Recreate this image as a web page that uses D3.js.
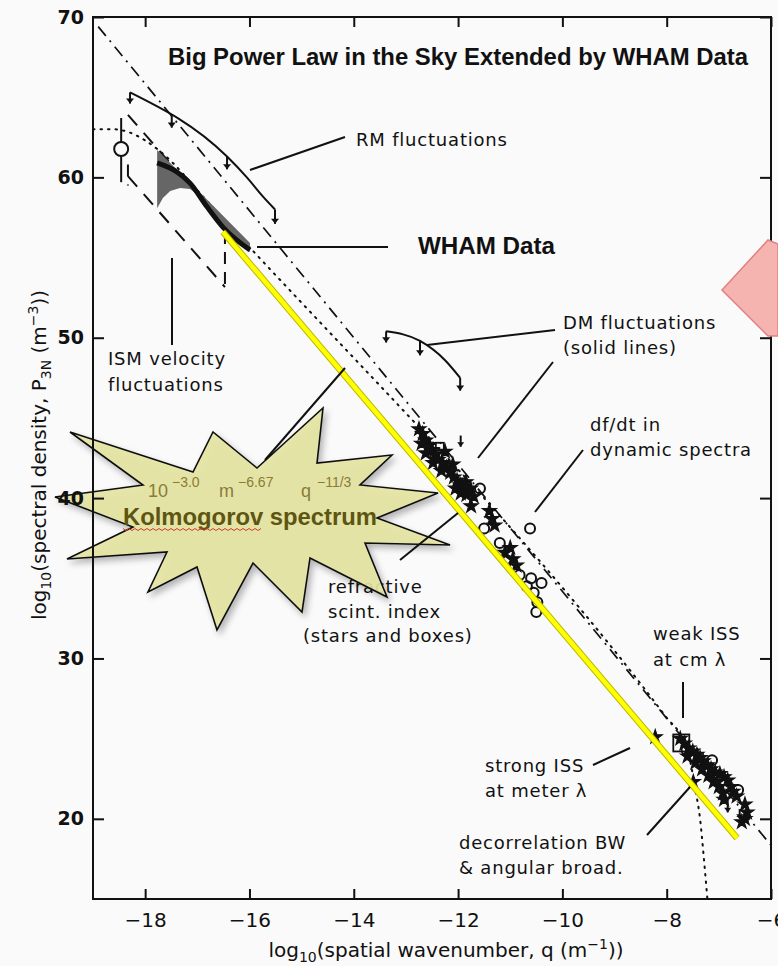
<!DOCTYPE html>
<html>
<head>
<meta charset="utf-8">
<script src="https://cdn.jsdelivr.net/npm/d3@7"></script>
<style>
body { margin: 0; background: #fafafa; }
svg text { font-family: "DejaVu Sans", Arial, sans-serif; fill: #111; }
</style>
</head>
<body>
<div id="chart"></div>
<script>
// tick values (log10 units)
var xTicks = [-18, -16, -14, -12, -10, -8, -6];
var yTicks = [20, 30, 40, 50, 60, 70];

// lines: [log q, log P]
var kolmogorovDotted = [[-19, 63], [-18.6, 63], [-18.3, 62.8], [-18, 62.3], [-17.5, 61.0], [-17, 59.2],
    [-8, 26.3], [-7.7, 25.0], [-7.55, 23.6], [-7.45, 21.8], [-7.36, 20], [-7.3, 18], [-7.22, 15]];
var steepDashDot = [[-18.9, 69.4], [-6, 18.35]];
var whamFit = [[-16.51, 56.6], [-6.65, 18.8]];
var ismUpper = [[-18.33, 63.9], [-16.47, 56.96]];
var ismLower = [[-18.33, 60.08], [-16.47, 53.16]];
var ismSides = [[-18.33, 60.8, 59.5], [-16.47, 56.6, 53.0]];

// WHAM spectrum and its uncertainty band
var whamCurve = [[-17.77, 60.9], [-17.39, 60.33], [-17.14, 59.64], [-16.81, 58.15], [-16.51, 56.9], [-15.99, 55.47]];
var whamBandTop = [[-17.77, 61.7], [-16.9, 58.9], [-15.99, 55.9]];
var whamBandBottom = [[-17.77, 58.08], [-17.66, 58.71], [-17.52, 59.15], [-17.33, 59.33], [-17.14, 59.27],
    [-16.95, 58.83], [-16.81, 58.15], [-16.51, 56.84], [-15.99, 55.34]];

// RM and DM upper limits: curve, then arrows [x, from, tip]
var rmCurve = [[-18.29, 65.3], [-16.43, 61.3], [-16.05, 60.0], [-15.74, 58.8], [-15.51, 58.0]];
var rmArrows = [[-18.29, 65.3, 64.6], [-17.49, 63.9, 63.1], [-16.43, 61.3, 60.5], [-15.51, 58.0, 57.1]];
var dmCurve = [[-13.38, 50.4], [-12.73, 49.8], [-12.25, 48.6], [-11.96, 47.5]];
var dmArrows = [[-13.38, 50.4, 49.7], [-12.73, 49.8, 48.9], [-11.96, 47.5, 46.7]];

// velocity point with error bar [x, y, low, high]
var velocityPoint = [[-18.46, 61.77, 59.7, 63.7]];

// scintillation measurements
var starPoints = [[-12.75, 44.3], [-12.68, 44.0], [-12.62, 43.6], [-12.55, 43.3], [-12.5, 43.0], [-12.44, 42.7],
    [-12.38, 42.4], [-12.3, 42.2], [-12.22, 41.9], [-12.15, 41.6], [-12.08, 41.3], [-12.02, 41.1], [-11.96, 40.8],
    [-11.9, 40.5], [-11.84, 40.2], [-11.95, 40.3], [-12.05, 40.6], [-12.32, 41.7], [-12.48, 42.2], [-12.62, 42.8],
    [-12.7, 43.4], [-11.76, 40.6], [-11.7, 40.1], [-11.75, 39.5], [-11.4, 39.2], [-11.35, 38.7], [-11.3, 38.3],
    [-11.1, 36.6], [-11.0, 36.9], [-10.95, 36.2], [-10.88, 35.8], [-12.25, 42.9], [-12.1, 42.1], [-11.85, 41.0],
    [-8.22, 25.1], [-7.74, 25.0], [-7.66, 24.7], [-7.58, 24.4], [-7.5, 24.2], [-7.42, 24.0], [-7.36, 23.8],
    [-7.3, 23.6], [-7.22, 23.35], [-7.15, 23.1], [-7.07, 22.9], [-6.98, 22.8], [-6.9, 22.6], [-6.83, 22.4],
    [-6.77, 22.0], [-6.73, 21.7], [-6.66, 21.4], [-6.5, 20.9], [-6.46, 20.4], [-6.5, 20.0], [-6.56, 19.8],
    [-7.6, 23.9], [-7.45, 23.5], [-7.32, 23.1], [-7.2, 22.7], [-7.1, 22.3], [-7.0, 22.0], [-6.92, 21.6],
    [-7.49, 22.3], [-6.9, 21.2]];
var boxPoints = [[-12.35, 43.2], [-12.15, 42.0], [-12.45, 42.6]];
var bigBox = [[-7.72, 24.7]];
var circlePoints = [[-11.58, 40.6], [-11.5, 38.1], [-11.2, 37.2], [-10.62, 38.1], [-11.05, 36.1], [-10.82, 35.2],
    [-10.6, 35.0], [-10.4, 34.7], [-10.55, 34.1], [-10.48, 33.5], [-10.68, 34.5], [-10.5, 32.9],
    [-7.13, 23.65], [-6.63, 21.8], [-7.62, 24.3]];
var limitPoints = [[-11.95, 43.9, 43.2], [-6.83, 21.2, 20.4], [-6.6, 20.6, 20.0]];

// chart area
var svgWidth = 778;
var svgHeight = 966;
var margin = {top: 17, right: 7, bottom: 67, left: 93};
var width = svgWidth - margin.left - margin.right;
var height = svgHeight - margin.top - margin.bottom;

var svg = d3.select("#chart").append("svg").attr("width", svgWidth).attr("height", svgHeight);
var defs = svg.append("defs");
defs.append("clipPath").attr("id", "plotClip").append("rect").attr("width", width).attr("height", height);
var shadow = defs.append("filter").attr("id", "shadow").attr("x", "-20%").attr("y", "-20%").attr("width", "140%").attr("height", "140%");
shadow.append("feDropShadow").attr("dx", 3).attr("dy", 4).attr("stdDeviation", 3).attr("flood-color", "#000").attr("flood-opacity", 0.3);

var chartGroup = svg.append("g").attr("transform", `translate(${margin.left}, ${margin.top})`);

var xScale = d3.scaleLinear().domain([-19, -6]).range([0, width]);
var yScale = d3.scaleLinear().domain([15, 70]).range([height, 0]);

var plot = chartGroup.append("g").attr("clip-path", "url(#plotClip)");
var line = d3.line().x(d => xScale(d[0])).y(d => yScale(d[1]));
var smooth = d3.line().x(d => xScale(d[0])).y(d => yScale(d[1])).curve(d3.curveMonotoneX);

// model spectra
plot.append("path").attr("d", smooth(kolmogorovDotted)).attr("fill", "none").attr("stroke", "#111")
    .attr("stroke-width", 2).attr("stroke-dasharray", "1.5,6").attr("stroke-linecap", "round");
plot.append("path").attr("d", line(steepDashDot)).attr("fill", "none").attr("stroke", "#111")
    .attr("stroke-width", 1.7).attr("stroke-dasharray", "12,6,2,6");

// ISM velocity box
[ismUpper, ismLower].forEach(function(seg) {
    plot.append("path").attr("d", line(seg)).attr("fill", "none").attr("stroke", "#111")
        .attr("stroke-width", 2).attr("stroke-dasharray", "14,10");
});
plot.selectAll(".ismSide").data(ismSides).enter().append("line")
    .attr("x1", d => xScale(d[0])).attr("x2", d => xScale(d[0]))
    .attr("y1", d => yScale(d[1])).attr("y2", d => yScale(d[2]))
    .attr("stroke", "#111").attr("stroke-width", 2).attr("stroke-dasharray", "12,8");

// WHAM band and spectrum
var band = whamBandTop.concat(whamBandBottom.slice().reverse());
plot.append("path").attr("d", line(band) + "Z").attr("fill", "#666").attr("stroke", "none");
plot.append("path").attr("d", smooth(whamCurve)).attr("fill", "none").attr("stroke", "#111").attr("stroke-width", 5);

// velocity point
plot.selectAll(".vbar").data(velocityPoint).enter().append("line")
    .attr("x1", d => xScale(d[0])).attr("x2", d => xScale(d[0]))
    .attr("y1", d => yScale(d[2])).attr("y2", d => yScale(d[3])).attr("stroke", "#111").attr("stroke-width", 2);
plot.selectAll(".vpt").data(velocityPoint).enter().append("circle")
    .attr("cx", d => xScale(d[0])).attr("cy", d => yScale(d[1])).attr("r", 7)
    .attr("fill", "#fafafa").attr("stroke", "#111").attr("stroke-width", 2);

// upper-limit curves with arrows
function drawArrows(data, head) {
    plot.selectAll(null).data(data).enter().append("line")
        .attr("x1", d => xScale(d[0])).attr("x2", d => xScale(d[0]))
        .attr("y1", d => yScale(d[1])).attr("y2", d => yScale(d[2]))
        .attr("stroke", "#111").attr("stroke-width", 2);
    plot.selectAll(null).data(data).enter().append("path")
        .attr("d", d => `M${xScale(d[0]) - head},${yScale(d[2]) - head * 1.3}L${xScale(d[0]) + head},${yScale(d[2]) - head * 1.3}L${xScale(d[0])},${yScale(d[2])}Z`)
        .attr("fill", "#111");
}
plot.append("path").attr("d", smooth(rmCurve)).attr("fill", "none").attr("stroke", "#111").attr("stroke-width", 2);
drawArrows(rmArrows, 4);
plot.append("path").attr("d", smooth(dmCurve)).attr("fill", "none").attr("stroke", "#111").attr("stroke-width", 2);
drawArrows(dmArrows, 4);

// measurements
plot.selectAll(".star").data(starPoints).enter().append("path")
    .attr("transform", d => `translate(${xScale(d[0])}, ${yScale(d[1])})`)
    .attr("d", d3.symbol().type(d3.symbolStar).size(60)).attr("fill", "#111")
    .attr("stroke", "#111").attr("stroke-width", 1.2);
plot.selectAll(".box").data(boxPoints).enter().append("rect")
    .attr("x", d => xScale(d[0]) - 4).attr("y", d => yScale(d[1]) - 4).attr("width", 8).attr("height", 8)
    .attr("fill", "none").attr("stroke", "#111").attr("stroke-width", 1.8);
plot.selectAll(".bigbox").data(bigBox).enter().append("rect")
    .attr("x", d => xScale(d[0]) - 8).attr("y", d => yScale(d[1]) - 9).attr("width", 16).attr("height", 17)
    .attr("fill", "none").attr("stroke", "#111").attr("stroke-width", 1.8);
plot.selectAll(".ring").data(circlePoints).enter().append("circle")
    .attr("cx", d => xScale(d[0])).attr("cy", d => yScale(d[1])).attr("r", 5)
    .attr("fill", "none").attr("stroke", "#111").attr("stroke-width", 2);
drawArrows(limitPoints, 3.5);

// WHAM extension of the Kolmogorov line
plot.append("path").attr("d", line(whamFit)).attr("fill", "none").attr("stroke", "#b8b800").attr("stroke-width", 6.5);
plot.append("path").attr("d", line(whamFit)).attr("fill", "none").attr("stroke", "#ffff00").attr("stroke-width", 4.5);

// annotation labels
var labels = [["RM fluctuations", 356, 146], ["ISM velocity", 108, 365], ["fluctuations", 108, 391],
    ["DM fluctuations", 563, 329], ["(solid lines)", 563, 354], ["df/dt in", 590, 431], ["dynamic spectra", 590, 456],
    ["refractive", 328, 593], ["scint. index", 328, 618], ["(stars and boxes)", 303, 642],
    ["weak ISS", 653, 640], ["at cm λ", 653, 666], ["strong ISS", 485, 772], ["at meter λ", 485, 797],
    ["decorrelation BW", 459, 849], ["& angular broad.", 459, 874]];
svg.selectAll(".lab").data(labels).enter().append("text")
    .attr("x", d => d[1]).attr("y", d => d[2]).attr("font-size", 18).attr("letter-spacing", 0.8).text(d => d[0]);

// starburst callout, slightly see-through
var burst = [[70, 432], [193, 472], [213, 432], [257, 468], [323, 408], [317, 463], [392, 455], [360, 485],
    [438, 493], [377, 518], [450, 545], [365, 543], [387, 597], [310, 558], [302, 612], [253, 563],
    [217, 630], [197, 567], [148, 592], [167, 552], [67, 559], [133, 527], [55, 497], [143, 485]];
svg.append("polygon").attr("points", burst.map(p => p.join(",")).join(" "))
    .attr("fill", "#e5e4a2").attr("fill-opacity", 0.9).attr("stroke", "#111").attr("stroke-width", 1.6)
    .attr("filter", "url(#shadow)");

// axes with inward ticks on all four sides, kept above the starburst
var axisGroup = svg.append("g").attr("transform", `translate(${margin.left}, ${margin.top})`);
var bottomAxis = d3.axisBottom(xScale).tickValues(xTicks).tickSizeInner(-10).tickSizeOuter(0).tickPadding(14);
var topAxis = d3.axisTop(xScale).tickValues(xTicks).tickSizeInner(-10).tickSizeOuter(0).tickFormat("");
var leftAxis = d3.axisLeft(yScale).tickValues(yTicks).tickSizeInner(-11).tickSizeOuter(0).tickPadding(9);
var rightAxis = d3.axisRight(yScale).tickValues(yTicks).tickSizeInner(-11).tickSizeOuter(0).tickFormat("");

var gx = axisGroup.append("g").attr("transform", `translate(0, ${height})`).call(bottomAxis);
axisGroup.append("g").call(topAxis);
var gy = axisGroup.append("g").call(leftAxis);
axisGroup.append("g").attr("transform", `translate(${width}, 0)`).call(rightAxis);
axisGroup.selectAll(".domain").remove();
axisGroup.selectAll(".tick line").attr("stroke", "#111").attr("stroke-width", 2);
gx.selectAll("text").attr("font-size", 20).attr("fill", "#111").style("font-family", "DejaVu Sans");
gy.selectAll("text").attr("font-size", 19).attr("fill", "#111").style("font-family", "DejaVu Sans").attr("font-weight", "bold");
axisGroup.append("rect").attr("width", width).attr("height", height).attr("fill", "none").attr("stroke", "#111").attr("stroke-width", 2);

// axis titles
var xt = svg.append("text").attr("x", 446).attr("y", 957).attr("text-anchor", "middle").attr("font-size", 20);
xt.append("tspan").text("log");
xt.append("tspan").attr("font-size", 14).attr("dy", 5).text("10");
xt.append("tspan").attr("dy", -5).text("(spatial wavenumber, q (m");
xt.append("tspan").attr("font-size", 14).attr("dy", -8).text("−1");
xt.append("tspan").attr("dy", 8).text("))");

var yt = svg.append("text").attr("transform", "translate(46, 455) rotate(-90)").attr("text-anchor", "middle").attr("font-size", 20);
yt.append("tspan").text("log");
yt.append("tspan").attr("font-size", 14).attr("dy", 5).text("10");
yt.append("tspan").attr("dy", -5).text("(spectral density, P");
yt.append("tspan").attr("font-size", 14).attr("dy", 5).text("3N");
yt.append("tspan").attr("dy", -5).text(" (m");
yt.append("tspan").attr("font-size", 14).attr("dy", -8).text("−3");
yt.append("tspan").attr("dy", 8).text("))");

// annotation leader lines
var leaders = [[250, 170, 345, 137], [257, 247, 388, 247], [172, 258, 172, 345], [427, 345, 555, 330],
    [478, 458, 553, 362], [535, 512, 583, 450], [400, 560, 458, 513], [265, 460, 345, 368],
    [683, 682, 683, 718], [593, 765, 630, 748], [647, 835, 690, 787]];
svg.selectAll(".leader").data(leaders).enter().append("line")
    .attr("x1", d => d[0]).attr("y1", d => d[1]).attr("x2", d => d[2]).attr("y2", d => d[3])
    .attr("stroke", "#111").attr("stroke-width", 2);

// overlay title and WHAM label
svg.append("text").attr("x", 168).attr("y", 65).attr("font-size", 24).attr("font-weight", "bold")
    .attr("textLength", 580).attr("lengthAdjust", "spacingAndGlyphs").style("font-family", "Liberation Sans, Arial")
    .text("Big Power Law in the Sky Extended by WHAM Data");
svg.append("text").attr("x", 418).attr("y", 254).attr("font-size", 24).attr("font-weight", "bold")
    .attr("textLength", 137).attr("lengthAdjust", "spacingAndGlyphs").style("font-family", "Liberation Sans, Arial")
    .text("WHAM Data");

// pink callout arrow at right edge
svg.append("path").attr("d", "M722,290L768,240L778,244L778,336L768,336Z")
    .attr("fill", "#f6b4b0").attr("stroke", "#e08080").attr("stroke-width", 1.5);

// starburst text
var eq = svg.append("g");
[["10", 148, 497, 18], ["−3.0", 172, 487, 14], ["m", 219, 497, 18], ["−6.67", 238, 487, 14],
    ["q", 301, 497, 18], ["−11/3", 317, 487, 14]].forEach(function(t) {
    eq.append("text").attr("x", t[1]).attr("y", t[2]).attr("font-size", t[3])
        .style("font-family", "Liberation Sans, Arial").style("fill", "#8a7b35").text(t[0]);
});
svg.append("text").attr("x", 123).attr("y", 525).attr("font-size", 23).attr("font-weight", "bold")
    .attr("textLength", 254).attr("lengthAdjust", "spacingAndGlyphs").style("fill", "#5e5512")
    .style("font-family", "Liberation Sans, Arial").text("Kolmogorov spectrum");
// spell-check squiggle under "Kolmogorov"
var squiggle = d3.range(123, 262, 3).map((x, i) => [x, 529 + (i % 2 ? 1.5 : -0.5)]);
svg.append("path").attr("d", d3.line()(squiggle)).attr("fill", "none").attr("stroke", "#d04030").attr("stroke-width", 1);
</script>
</body>
</html>
